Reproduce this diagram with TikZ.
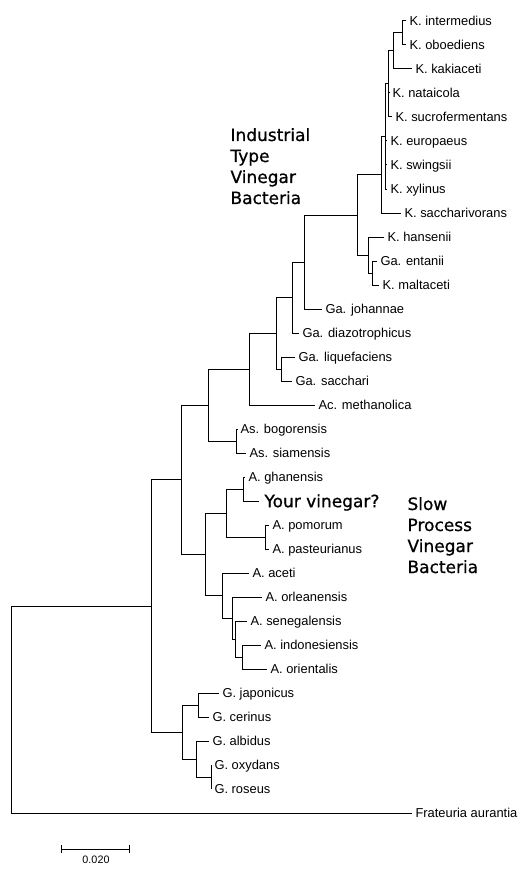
\documentclass[tikz,border=0pt]{standalone}
\usepackage{fontspec}
\usetikzlibrary{arrows.meta}
\newfontfamily\leaffont{Liberation Sans}
\newfontfamily\notefont{DejaVu Sans}[FakeBold=0.8]
\begin{document}
\begin{tikzpicture}[x=1pt,y=-1pt,line width=1pt,
    leaf/.style={anchor=west,inner xsep=3pt,inner ysep=0pt,text height=9.3pt,text depth=0pt,font=\leaffont\fontsize{12.9}{14}\selectfont},
    note/.style={anchor=base west,align=left,inner sep=0pt,font=\notefont\fontsize{17}{21}\selectfont},
    scalelbl/.style={inner sep=0pt,font=\leaffont\fontsize{10.8}{12}\selectfont}]
    \useasboundingbox (0,0) rectangle (525,869);
    % leaves, 24px apart
    \foreach \i/\x/\name in {1/406/K. intermedius,2/406/K. oboediens,3/412/K. kakiaceti,4/389/K. nataicola,
        5/392/K. sucrofermentans,6/387/K. europaeus,7/387/K. swingsii,8/387/K. xylinus,9/401/K. saccharivorans,
        10/384/K. hansenii,11/377/Ga. entanii,12/379/K. maltaceti,13/322/Ga. johannae,14/299/Ga. diazotrophicus,
        15/295/Ga. liquefaciens,16/292/Ga. sacchari,17/315/Ac. methanolica,18/237/As. bogorensis,19/246/As. siamensis,
        20/245/A. ghanensis,22/269/A. pomorum,23/269/A. pasteurianus,24/249/A. aceti,25/262/A. orleanensis,
        26/247/A. senegalensis,27/261/A. indonesiensis,28/267/A. orientalis,29/219/G. japonicus,30/209/G. cerinus,
        31/209/G. albidus,32/211/G. oxydans,33/211/G. roseus,34/412/Frateuria aurantia}
        \node[leaf] (l\i) at (\x,{21+24*(\i-1)}) {\name};
    \node[leaf,inner xsep=5pt,text height=12.4pt,font=\notefont\fontsize{17}{21}\selectfont] (l21) at (259,501) {Your vinegar?};
    % inner nodes
    \coordinate (k1) at (402.7,33);
    \coordinate (k2) at (393,51);
    \coordinate (k3) at (388.5,84);
    \coordinate (k4) at (385.5,136.5);
    \coordinate (k5) at (381.7,174.75);
    \coordinate (k7) at (372.5,273);
    \coordinate (k6) at (368,255);
    \coordinate (k8) at (357,215);
    \coordinate (g1) at (304,262);
    \coordinate (g2) at (292,297.5);
    \coordinate (g3) at (281,369);
    \coordinate (g4) at (276,333);
    \coordinate (ac1) at (249,369);
    \coordinate (as1) at (236.5,441);
    \coordinate (ag) at (208,405);
    \coordinate (a1) at (243.5,489);
    \coordinate (a2) at (265.5,537);
    \coordinate (a3) at (226,513);
    \coordinate (a4) at (242,657);
    \coordinate (a5) at (235,639);
    \coordinate (a6) at (232,618);
    \coordinate (a7) at (222,595.5);
    \coordinate (a8) at (205.7,554);
    \coordinate (aa) at (181.7,479.5);
    \coordinate (gl1) at (198.3,705);
    \coordinate (gl2) at (211,777);
    \coordinate (gl3) at (196,759);
    \coordinate (gl4) at (182,732);
    \coordinate (ingrp) at (151,606);
    \coordinate (root) at (11,709.5);
    % branches
    \foreach \p/\c in {k1/l1,k1/l2,k2/k1,k2/l3,k3/k2,k3/l4,k3/l5,k4/k3,k4/l6,k4/l7,k4/l8,k5/k4,k5/l9,
        k7/l11,k7/l12,k6/l10,k6/k7,k8/k5,k8/k6,g1/k8,g1/l13,g2/g1,g2/l14,g3/l15,g3/l16,g4/g2,g4/g3,
        ac1/g4,ac1/l17,as1/l18,as1/l19,ag/ac1,ag/as1,a1/l20,a1/l21,a2/l22,a2/l23,a3/a1,a3/a2,
        a4/l27,a4/l28,a5/l26,a5/a4,a6/l25,a6/a5,a7/l24,a7/a6,a8/a3,a8/a7,aa/ag,aa/a8,
        gl1/l29,gl1/l30,gl2/l32,gl2/l33,gl3/l31,gl3/gl2,gl4/gl1,gl4/gl3,ingrp/aa,ingrp/gl4,root/ingrp,root/l34}
        \draw (\p) |- (\c);
    % base anchor of these sits on the last line
    \node[note] (industrial) at (230,204) {Industrial\\Type\\Vinegar\\Bacteria};
    \node[note] (slowproc) at (407,573) {Slow\\Process\\Vinegar\\Bacteria};
    % scale bar
    \coordinate (sbl) at (61,849);
    \coordinate (sbr) at (130,849);
    \draw[{Bar[width=8pt]}-{Bar[width=8pt]}] (sbl) -- (sbr);
    \node[scalelbl] (sbtext) at (96,860) {0.020};
\end{tikzpicture}
\end{document}
